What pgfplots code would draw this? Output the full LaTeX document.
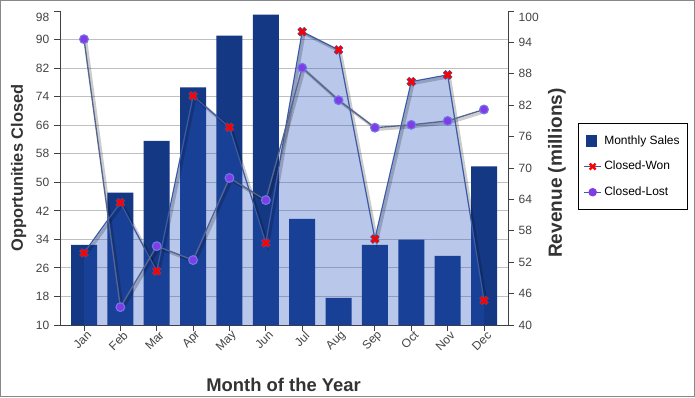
\documentclass[border=0pt]{standalone}
\usepackage{pgfplots}
\pgfplotsset{compat=1.18}
\usepackage{fontspec}
\setmainfont{Liberation Sans}
\definecolor{barblue}{RGB}{20,56,132}
\definecolor{areablue}{RGB}{36,83,192}
\definecolor{wonline}{RGB}{60,90,165}
\definecolor{lostline}{RGB}{85,100,145}
\definecolor{lostfill}{RGB}{130,60,230}
\definecolor{lostedge}{RGB}{110,120,235}
\definecolor{tickgray}{RGB}{68,68,68}
\definecolor{labelgray}{RGB}{51,51,51}
\definecolor{axisgray}{RGB}{64,64,64}
\definecolor{gridgray}{RGB}{192,192,192}
\definecolor{framegray}{RGB}{136,136,136}

\pgfplotstableread{
x bars won lost
0 55.3 30.2 90.1
1 65.3 44.3 15.0
2 75.2 25.1 32.1
3 85.4 74.2 28.2
4 95.3 65.4 51.2
5 99.3 33.0 45.0
6 60.3 92.2 82.1
7 45.2 87.1 73.0
8 55.3 34.1 65.3
9 56.3 78.2 66.1
10 53.2 80.1 67.2
11 70.3 16.9 70.4
}\datatable

\pgfplotsset{
  myaxis/.style={
    scale only axis, width=336pt, height=235.5pt,
    at={(45pt,54pt)}, anchor=south west,
    xmin=-0.66, xmax=11.66,
    tick align=outside, major tick length=4.5pt,
    axis line style={draw=axisgray, line width=0.75pt},
    tick style={draw=axisgray, line width=0.75pt},
    ticklabel style={font=\fontsize{9}{10}\selectfont, text=tickgray},
    label style={text=labelgray},
    /pgf/number format/assume math mode=true,
  }
}

\begin{document}
\begin{tikzpicture}
\useasboundingbox (0,0) rectangle (521.25pt,297.75pt);
\fill[white] (0,0) rectangle (521.25pt,297.75pt);
\draw[framegray, line width=1pt] (0.5pt,0.5pt) rectangle (520.75pt,297.25pt);

% axis 1: left scale, grid, x axis
\begin{axis}[myaxis,
  ymin=10, ymax=98, ytick={10,18,...,90},
  extra y ticks={98},
  extra y tick style={ymajorgrids=false, yticklabel style={yshift=-5pt}},
  axis x line*=bottom, axis y line*=left,
  ymajorgrids, grid style={draw=gridgray, line width=0.75pt},
  xtick={0,...,11},
  xticklabels={Jan,Feb,Mar,Apr,May,Jun,Jul,Aug,Sep,Oct,Nov,Dec},
  xticklabel style={rotate=45, anchor=east, xshift=5pt, yshift=-4pt},
  xlabel={Month of the Year}, ylabel={Opportunities Closed},
  xlabel style={at={(axis description cs:0.499,-0.191)}, anchor=center, font=\bfseries\fontsize{13.8}{16}\selectfont},
  ylabel style={at={(axis description cs:-0.0926,0.5)}, anchor=center, font=\bfseries\fontsize{12.3}{14}\selectfont},
]
\addplot[draw=none, forget plot] coordinates {(0,10)};
\end{axis}

% axis 2: right scale, bars
\begin{axis}[myaxis,
  ymin=40, ymax=100, ytick={40,46,...,94},
  extra y ticks={100},
  extra y tick style={yticklabel style={yshift=-5pt}},
  axis y line*=right, axis x line=none, xtick=\empty,
  ylabel={Revenue (millions)},
  ylabel style={at={(axis description cs:1.109,0.484)}, anchor=center, font=\bfseries\fontsize{14.3}{16}\selectfont},
]
\addplot[ybar, bar width=19.5pt, bar shift=0pt, fill=barblue, draw=none] table[x=x, y=bars] {\datatable};
\end{axis}

% axis 3: area and lines, left scale
\begin{axis}[myaxis,
  ymin=10, ymax=98, hide axis, xtick=\empty, ytick=\empty,
  legend style={at={(axis description cs:1.156,0.643)}, anchor=north west,
    draw=black, line width=0.75pt, font=\fontsize{9}{10}\selectfont,
    row sep=7.2pt, inner xsep=4pt, inner ysep=7pt},
  legend cell align=left,
]
\addplot[fill=areablue, fill opacity=0.32, draw=none, forget plot] table[x=x, y=won] {\datatable} \closedcycle;
% shadows
\addplot[black, opacity=0.2, line width=2.2pt, xshift=1.4pt, yshift=-1.4pt, forget plot] table[x=x, y=won] {\datatable};
\addplot[black, opacity=0.2, line width=2.2pt, xshift=1.4pt, yshift=-1.4pt, forget plot] table[x=x, y=lost] {\datatable};
\addplot[wonline, line width=0.9pt, forget plot] table[x=x, y=won] {\datatable};
\addplot[lostline, line width=1pt, forget plot] table[x=x, y=lost] {\datatable};
\addplot[only marks, mark=x, mark size=3.6pt, mark options={draw=wonline, line width=3pt}, forget plot] table[x=x, y=won] {\datatable};
\addplot[only marks, mark=x, mark size=3.4pt, mark options={draw=red, line width=2pt}, forget plot] table[x=x, y=won] {\datatable};
\addplot[only marks, mark=*, mark size=3.3pt, mark options={fill=lostfill, draw=lostedge, line width=0.8pt}, forget plot] table[x=x, y=lost] {\datatable};

\addlegendimage{legend image code/.code={\fill[barblue] (0.05cm,-0.14cm) rectangle (0.33cm,0.14cm);}}
\addlegendentry{Monthly Sales}
\addlegendimage{legend image code/.code={\draw[wonline, line width=0.6pt] (0cm,0cm) -- (0.45cm,0cm); \draw[red, line width=1.8pt] (0.225cm,0cm) ++(-2.2pt,-2.2pt) -- ++(4.4pt,4.4pt) ++(0pt,-4.4pt) -- ++(-4.4pt,4.4pt);}}
\addlegendentry{Closed-Won}
\addlegendimage{legend image code/.code={\draw[wonline, line width=0.6pt] (0cm,0cm) -- (0.45cm,0cm); \fill[lostfill] (0.225cm,0cm) circle (2.8pt);}}
\addlegendentry{Closed-Lost}
\end{axis}
\end{tikzpicture}
\end{document}
